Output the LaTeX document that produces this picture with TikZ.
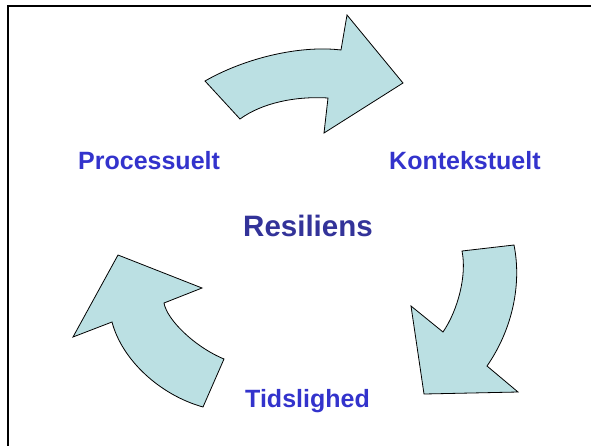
\documentclass[tikz,border=0pt]{standalone}
\usepackage{fontspec}
\setmainfont{Liberation Sans}
\definecolor{arrowfill}{RGB}{187,224,227}
\definecolor{labelblue}{RGB}{51,51,204}
\definecolor{centerblue}{RGB}{51,51,153}
\tikzset{
  bigarrow/.style={fill=arrowfill, draw=black, line width=0.8pt, line join=miter},
  frameline/.style={draw=black, line width=2.6pt},
  label/.style={text=labelblue, font=\bfseries\fontsize{25}{30}\selectfont, inner sep=0pt, anchor=base west},
  centerlabel/.style={text=centerblue, font=\bfseries\fontsize{29.5}{35}\selectfont, inner sep=0pt, anchor=base west}
}
\begin{document}
\begin{tikzpicture}[x=1pt,y=-1pt]
\useasboundingbox (0,0) rectangle (591,445);
% frame
\draw[frameline] (7.8,447) -- (7.8,6) -- (593,6);
% top arrow
\path[bigarrow] (205,81) -- (240,119) .. controls (262,103) and (295,96) .. (328,98)
  -- (324,133) -- (403,83) -- (347,15) -- (341,50)
  .. controls (300,45) and (245,58) .. (205,81) -- cycle;
% right arrow
\path[bigarrow] (462,251) -- (514,245) .. controls (522,285) and (512,330) .. (487,366)
  -- (518,392) -- (424,394) -- (411,306) -- (443,332)
  .. controls (458,310) and (467,275) .. (462,251) -- cycle;
% left arrow
\path[bigarrow] (203,407) -- (224,359) .. controls (195,347) and (167,320) .. (164,303)
  -- (202,288) -- (118,255) -- (73,337) -- (112,322)
  .. controls (122,360) and (160,395) .. (203,407) -- cycle;
% labels
\node[label] (proc) at (78,169) {Processuelt};
\node[label] (kont) at (389,169) {Kontekstuelt};
\node[centerlabel] (res) at (243,236) {Resiliens};
\node[label] (tids) at (245,407) {Tidslighed};
\end{tikzpicture}
\end{document}
